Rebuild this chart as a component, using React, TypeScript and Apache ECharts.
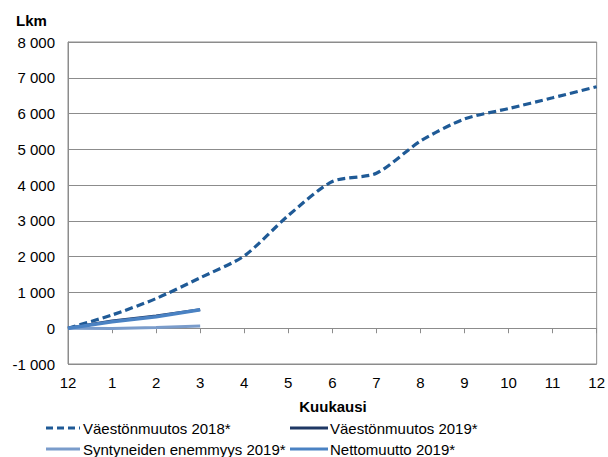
import React, { useEffect, useRef } from "react";
import * as echarts from "echarts";

const months = ["12", "1", "2", "3", "4", "5", "6", "7", "8", "9", "10", "11", "12"];
const vaesto2018 = [0, 370, 830, 1410, 2020, 3150, 4100, 4330, 5230, 5850, 6140, 6440, 6750];
const vaesto2019 = [0, 200, 345, 520];
const syntyneet2019 = [0, -10, 20, 65];
const netto2019 = [0, 180, 320, 515];
const yTicks = { min: -1000, max: 8000, interval: 1000 };

const names = [
  "Väestönmuutos 2018*",
  "Väestönmuutos 2019*",
  "Syntyneiden enemmyys 2019*",
  "Nettomuutto 2019*",
];
const colors = ["#1f5a96", "#1f3864", "#7a9ccb", "#4a82c3"];

const FONT = "'Liberation Sans', Arial, sans-serif";
const GRID_COLOR = "#8c8c8c";

function fmt(v: number) {
  const s = Math.abs(v).toString().replace(/\B(?=(\d{3})+(?!\d))/g, " ");
  return (v < 0 ? "-" : "") + s;
}

// legend layout: [seriesIndex, iconX0, iconX1, textX, y]
const legendLayout: [number, number, number, number, number][] = [
  [0, 46, 80, 83, 428],
  [1, 290, 328, 330, 428],
  [2, 46, 80, 83, 449],
  [3, 290, 328, 330, 449],
];

export default function App() {
  const ref = useRef<HTMLDivElement>(null);
  useEffect(() => {
    if (!ref.current) return;
    const chart = echarts.init(ref.current, undefined, { renderer: "svg" });
    const legendGraphics: any[] = [];
    legendLayout.forEach(([si, x0, x1, tx, y]) => {
      legendGraphics.push({
        type: "line",
        shape: { x1: x0, y1: y, x2: x1, y2: y },
        style: {
          stroke: colors[si],
          lineWidth: 3,
          lineDash: si === 0 ? [7, 4] : null,
        },
      });
      legendGraphics.push({
        type: "text",
        x: tx,
        y: y,
        style: {
          text: names[si],
          font: `15px ${FONT}`,
          fill: "#000",
          align: "left",
          verticalAlign: "middle",
        },
      });
    });
    chart.setOption({
      animation: false,
      backgroundColor: "#ffffff",
      textStyle: { fontFamily: FONT },
      grid: {
        left: 68,
        right: 10,
        top: 42,
        bottom: 93,
        show: true,
        borderColor: GRID_COLOR,
        borderWidth: 1,
      },
      xAxis: [
        {
          type: "category",
          data: months,
          boundaryGap: false,
          position: "bottom",
          axisLine: { show: false, onZero: false },
          axisTick: { show: false },
          axisLabel: { color: "#000", fontSize: 15, fontFamily: FONT, margin: 11, interval: 0 },
          splitLine: { show: false },
        },
        {
          type: "category",
          data: months,
          boundaryGap: false,
          position: "bottom",
          axisLine: { show: true, onZero: true, lineStyle: { color: GRID_COLOR, width: 1 } },
          axisTick: { show: true, length: 5, inside: false, lineStyle: { color: GRID_COLOR } },
          axisLabel: { show: false },
          splitLine: { show: false },
        },
      ],
      yAxis: {
        type: "value",
        min: yTicks.min,
        max: yTicks.max,
        interval: yTicks.interval,
        axisLine: { show: true, lineStyle: { color: GRID_COLOR } },
        axisTick: { show: false },
        axisLabel: {
          color: "#000",
          fontSize: 15,
          fontFamily: FONT,
          margin: 13,
          formatter: (v: number) => fmt(v),
        },
        splitLine: { show: true, lineStyle: { color: GRID_COLOR, width: 1 } },
      },
      graphic: [
        {
          type: "text",
          left: 16,
          top: 13,
          style: { text: "Lkm", font: `bold 15px ${FONT}`, fill: "#000" },
        },
        {
          type: "text",
          x: 333,
          y: 406,
          style: {
            text: "Kuukausi",
            font: `bold 15px ${FONT}`,
            fill: "#000",
            align: "center",
            verticalAlign: "middle",
          },
        },
        ...legendGraphics,
      ],
      series: [
        {
          name: names[0],
          type: "line",
          data: vaesto2018,
          symbol: "none",
          smooth: 0.25,
          lineStyle: { color: colors[0], width: 3.2, type: [8, 4] },
          itemStyle: { color: colors[0] },
        },
        {
          name: names[1],
          type: "line",
          data: vaesto2019,
          symbol: "none",
          lineStyle: { color: colors[1], width: 3 },
          itemStyle: { color: colors[1] },
        },
        {
          name: names[2],
          type: "line",
          data: syntyneet2019,
          symbol: "none",
          lineStyle: { color: colors[2], width: 3 },
          itemStyle: { color: colors[2] },
        },
        {
          name: names[3],
          type: "line",
          data: netto2019,
          symbol: "none",
          lineStyle: { color: colors[3], width: 3.6 },
          itemStyle: { color: colors[3] },
        },
      ],
    });
    return () => chart.dispose();
  }, []);
  return (
    <div
      ref={ref}
      style={{ position: "fixed", left: 0, top: 0, width: 608, height: 457 }}
    />
  );
}
